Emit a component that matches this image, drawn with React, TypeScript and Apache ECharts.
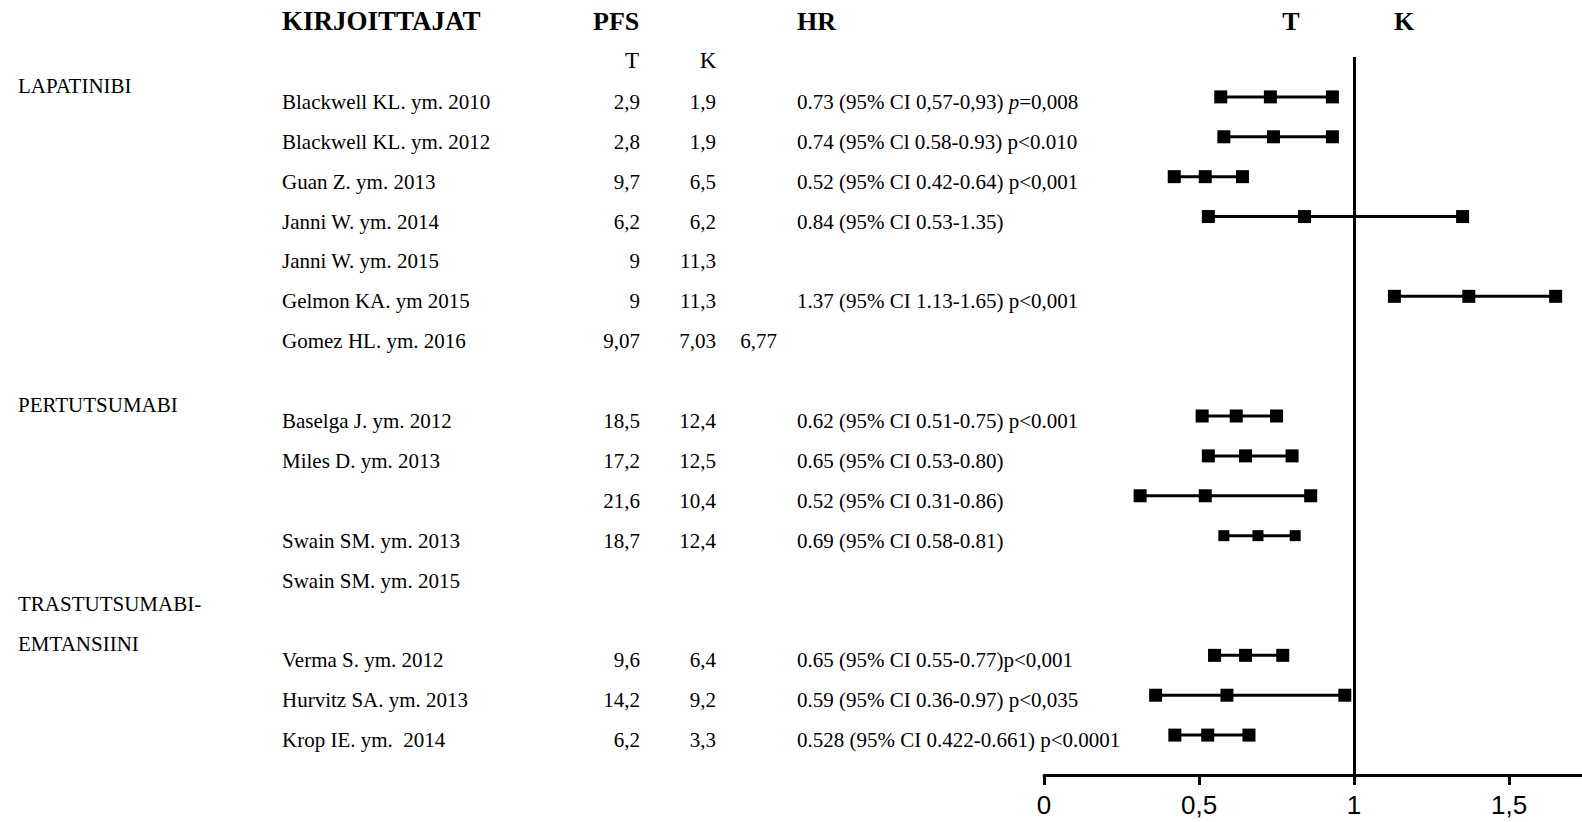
import React, { useEffect, useRef } from "react";
import * as echarts from "echarts";

// Study rows, top to bottom ("" = empty row)
const authors = [
  "Blackwell KL. ym. 2010",
  "Blackwell KL. ym. 2012",
  "Guan Z. ym. 2013",
  "Janni W. ym. 2014",
  "Janni W. ym. 2015",
  "Gelmon KA. ym 2015",
  "Gomez HL. ym. 2016",
  "",
  "Baselga J. ym. 2012",
  "Miles D. ym. 2013",
  "",
  "Swain SM. ym. 2013",
  "Swain SM. ym. 2015",
  "",
  "Verma S. ym. 2012",
  "Hurvitz SA. ym. 2013",
  "Krop IE. ym.  2014",
];

const pfsT = ["2,9", "2,8", "9,7", "6,2", "9", "9", "9,07", "", "18,5", "17,2", "21,6", "18,7", "", "", "9,6", "14,2", "6,2"];
const pfsK = ["1,9", "1,9", "6,5", "6,2", "11,3", "11,3", "7,03", "", "12,4", "12,5", "10,4", "12,4", "", "", "6,4", "9,2", "3,3"];
const pfsExtra = ["", "", "", "", "", "", "6,77", "", "", "", "", "", "", "", "", "", ""];

const hrTexts = [
  "0.73 (95% CI 0,57-0,93) {i|p}=0,008",
  "0.74 (95% Cl 0.58-0.93) p<0.010",
  "0.52 (95% CI 0.42-0.64) p<0,001",
  "0.84 (95% CI 0.53-1.35)",
  "",
  "1.37 (95% CI 1.13-1.65) p<0,001",
  "",
  "",
  "0.62 (95% CI 0.51-0.75) p<0.001",
  "0.65 (95% CI 0.53-0.80)",
  "0.52 (95% CI 0.31-0.86)",
  "0.69 (95% CI 0.58-0.81)",
  "",
  "",
  "0.65 (95% CI 0.55-0.77)p<0,001",
  "0.59 (95% CI 0.36-0.97) p<0,035",
  "0.528 (95% CI 0.422-0.661) p<0.0001",
];

// Hazard ratios with 95% confidence limits (row index, HR, lower, upper)
const hrRows = [0, 1, 2, 3, 5, 8, 9, 10, 11, 14, 15, 16];
const hrValues = [0.73, 0.74, 0.52, 0.84, 1.37, 0.62, 0.65, 0.52, 0.69, 0.65, 0.59, 0.528];
const ciLower = [0.57, 0.58, 0.42, 0.53, 1.13, 0.51, 0.53, 0.31, 0.58, 0.55, 0.36, 0.422];
const ciUpper = [0.93, 0.93, 0.64, 1.35, 1.65, 0.75, 0.8, 0.86, 0.81, 0.77, 0.97, 0.661];

// Drug groups and the row they start at
const groupLabels = ["LAPATINIBI", "PERTUTSUMABI", "TRASTUTSUMABI-", "EMTANSIINI"];
const groupRows = [0, 8, 13, 14];

const xTicks = [0, 0.5, 1, 1.5];

// Layout
const W = 1582;
const H = 822;
const GRID_LEFT = 1044;
const GRID_TOP = 57;
const AXIS_Y = 775;
const Y_MIN = -1;
const Y_MAX = 17;
const X_MAX = 1.735;
const ROW_H = (AXIS_Y - GRID_TOP) / (Y_MAX - Y_MIN);
const rowY = (r: number) => GRID_TOP + (r - Y_MIN) * ROW_H;

const SERIF = "'Liberation Serif', 'Times New Roman', serif";
const BODY_FONT = `21px ${SERIF}`;

function txt(text: string, x: number, y: number, font: string, align = "left", rich?: any) {
  return {
    type: "text",
    x,
    y,
    silent: true,
    style: {
      text,
      font,
      fill: "#000",
      align,
      verticalAlign: "middle",
      textAlign: align,
      textVerticalAlign: "middle",
      rich,
    },
  };
}

export default function App() {
  const ref = useRef<HTMLDivElement>(null);

  useEffect(() => {
    if (!ref.current) return;
    const chart = echarts.init(ref.current, undefined, { renderer: "svg" });

    const graphics: any[] = [];
    // Headers
    const headFont = `bold 26px ${SERIF}`;
    graphics.push(txt("KIRJOITTAJAT", 282, 21, `bold 27px ${SERIF}`));
    graphics.push(txt("PFS", 593, 21, headFont));
    graphics.push(txt("HR", 797, 21, headFont));
    graphics.push(txt("T", 1291, 21, headFont, "center"));
    graphics.push(txt("K", 1404, 21, headFont, "center"));
    graphics.push(txt("T", 632, 60, `23px ${SERIF}`, "center"));
    graphics.push(txt("K", 708, 60, `23px ${SERIF}`, "center"));

    // Group labels
    groupLabels.forEach((g, i) => {
      graphics.push(txt(g, 18, rowY(groupRows[i]) - 11, BODY_FONT));
    });

    // Table rows
    const rich = {
      i: { font: `italic 21px ${SERIF}`, fill: "#000" },
    };
    authors.forEach((a, r) => {
      const y = rowY(r) + 5;
      if (a) graphics.push(txt(a, 282, y, BODY_FONT));
      if (pfsT[r]) graphics.push(txt(pfsT[r], 640, y, BODY_FONT, "right"));
      if (pfsK[r]) graphics.push(txt(pfsK[r], 716, y, BODY_FONT, "right"));
      if (pfsExtra[r]) graphics.push(txt(pfsExtra[r], 777, y, BODY_FONT, "right"));
      if (hrTexts[r]) graphics.push(txt(hrTexts[r], 797, y, BODY_FONT, "left", rich));
    });

    const series: any[] = hrRows.map((r, i) => ({
      type: "line",
      data: [
        [ciLower[i], r],
        [hrValues[i], r],
        [ciUpper[i], r],
      ],
      symbol: "rect",
      symbolSize: r === 11 ? 11 : 13,
      showAllSymbol: true,
      itemStyle: { color: "#000" },
      lineStyle: { color: "#000", width: 3 },
      silent: true,
      z: 3,
    }));

    // Reference line at HR = 1
    series.push({
      type: "line",
      data: [],
      markLine: {
        silent: true,
        symbol: "none",
        label: { show: false },
        lineStyle: { color: "#000", width: 3, type: "solid" },
        data: [{ xAxis: 1 }],
      },
    });

    chart.setOption({
      animation: false,
      backgroundColor: "#fff",
      grid: { left: GRID_LEFT, right: 0, top: GRID_TOP, bottom: H - AXIS_Y },
      xAxis: {
        type: "value",
        min: 0,
        max: X_MAX,
        interval: 0.5,
        splitLine: { show: false },
        axisLine: { show: true, onZero: false, lineStyle: { color: "#000", width: 3 } },
        axisTick: { show: true, length: 10, lineStyle: { color: "#000", width: 3 } },
        axisLabel: {
          show: true,
          margin: 18,
          color: "#000",
          fontSize: 26,
          lineHeight: 24,
          fontFamily: "'Liberation Sans', Arial, sans-serif",
          showMaxLabel: false,
          formatter: (v: number) => (xTicks.includes(v) ? String(v).replace(".", ",") : ""),
        },
      },
      yAxis: {
        type: "value",
        min: Y_MIN,
        max: Y_MAX,
        inverse: true,
        show: false,
        splitLine: { show: false },
      },
      graphic: graphics,
      series,
    });

    return () => chart.dispose();
  }, []);

  return (
    <div
      ref={ref}
      style={{ position: "absolute", left: 0, top: 0, width: W, height: H, background: "#fff" }}
    />
  );
}
